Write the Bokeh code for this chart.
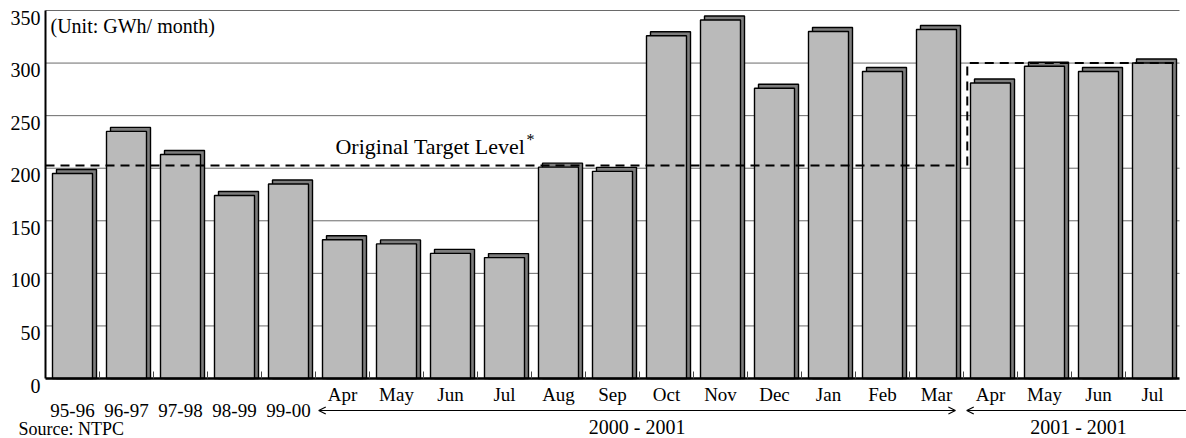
from bokeh.plotting import figure
from bokeh.models import Range1d, ColumnDataSource, Arrow, OpenHead
from bokeh.core.properties import value
from bokeh.embed import file_html
from bokeh.resources import INLINE

# ---------------- data ----------------
categories = ["95-96", "96-97", "97-98", "98-99", "99-00",
              "Apr", "May", "Jun", "Jul", "Aug", "Sep", "Oct", "Nov", "Dec",
              "Jan", "Feb", "Mar", "Apr", "May", "Jun", "Jul"]
generation = [195, 235, 213, 174, 185,
              132, 128, 119, 115, 201, 197, 326, 341, 276,
              330, 292, 332, 281, 297, 292, 300]
annual_count = 5                      # first five are fiscal years
original_target = 202.5
revised_target = 300
y_ticks = [0, 50, 100, 150, 200, 250, 300, 350]
periods = ["2000 - 2001", "2001 - 2001"]
period_first = [5, 17]
period_last = [16, 20]
unit_text = "(Unit: GWh/ month)"
target_text = "Original Target Level"
source_text = "Source: NTPC"

# ---------------- geometry ----------------
W, H = 1186, 438
LEFT, TOP = 45, 10                  # plot-area offset inside the canvas
n = len(categories)
px_x = 54.0                         # px per category
px_y = 1.05143                      # px per GWh
y_top = 350
ux = lambda px: px / px_x           # px -> x units
uy = lambda px: px / px_y           # px -> y units
x0 = -0.5
x_start = x0 - ux(LEFT)
x_end = x_start + ux(W)
y_end = y_top + uy(TOP)
y_start = y_end - uy(H)

FONT = "Liberation Serif"

p = figure(width=W, height=H, output_backend="svg", toolbar_location=None,
           x_range=Range1d(x_start, x_end), y_range=Range1d(y_start, y_end),
           x_axis_type=None, y_axis_type=None,
           min_border=0)
p.outline_line_color = None
p.background_fill_color = "white"
p.border_fill_color = "white"
p.grid.visible = False

x_last = n - 0.5
# grid lines
gt = [t for t in y_ticks if t > 0]
p.segment(x0=[x0] * len(gt), y0=gt, x1=[x_last] * len(gt), y1=gt,
          line_color="#6a6a6a", line_width=1)

# y tick labels
p.text(x=[x0 - ux(5)] * len(y_ticks), y=[t - uy(7) for t in y_ticks],
       text=[str(t) for t in y_ticks], text_font=value(FONT), text_font_size="20px",
       text_align="right", text_baseline="middle", text_color="black")

xs = list(range(n))
src = ColumnDataSource(dict(
    x=xs,
    xs=[x + ux(4) for x in xs],
    top=generation,
    stop=[g + uy(4) for g in generation],
))

bw = ux(40)
p.vbar(x="xs", top="stop", bottom=0, width=bw, source=src,
       fill_color="#7d7d7d", line_color="black", line_width=1.4)
p.vbar(x="x", top="top", bottom=0, width=bw, source=src,
       fill_color="#bababa", line_color="black", line_width=1.4)

# axis lines
p.segment(x0=[x0], y0=[0], x1=[x_last], y1=[0], line_color="black", line_width=2.5)
p.segment(x0=[x0], y0=[0], x1=[x0], y1=[y_top], line_color="black", line_width=2)
# small boundary ticks
bx = [i + 0.5 for i in range(n - 1)]
p.segment(x0=bx, y0=[0] * len(bx), x1=bx, y1=[uy(7)] * len(bx),
          line_color="#444444", line_width=1)

# target lines
step_x = period_first[1] - 0.43
p.line(x=[x0, period_last[0] + 0.41], y=[original_target] * 2,
       line_color="black", line_width=2, line_dash="9 6")
p.line(x=[step_x, step_x, n - 0.54], y=[original_target, revised_target, revised_target],
       line_color="black", line_width=2, line_dash="9 6")

# texts
p.text(x=[x0 + ux(5)], y=[y_top - uy(15)], text=[unit_text],
       text_font=value(FONT), text_font_size="20px", text_baseline="middle",
       text_align="left", text_color="black")
p.text(x=[4.87], y=[original_target + uy(19)], text=[target_text],
       text_font=value(FONT), text_font_size="22px", text_baseline="middle",
       text_align="left", text_color="black")
p.text(x=[4.87 + ux(191)], y=[original_target + uy(26)], text=["*"],
       text_font=value(FONT), text_font_size="16px", text_baseline="middle",
       text_align="left", text_color="black")

lab_src = ColumnDataSource(dict(
    x=xs,
    y=[-uy(32) if i < annual_count else -uy(16) for i in xs],
    text=categories,
))
p.text(x="x", y="y", text="text", source=lab_src,
       text_font=value(FONT), text_font_size="19px", text_baseline="middle",
       text_align="center", text_color="black")

arrow_y = -uy(32)
starts = [f - 0.44 for f in period_first]
ends = [period_last[0] + 0.35, n - 0.3]
for k, label in enumerate(periods):
    p.add_layout(Arrow(start=OpenHead(size=7, line_width=1.2),
                       end=OpenHead(size=7, line_width=1.2) if k == 0 else None,
                       x_start=starts[k], y_start=arrow_y, x_end=ends[k], y_end=arrow_y,
                       line_width=1.2, line_color="black"))
p.text(x=[(s + e) / 2 for s, e in zip(starts, ends)], y=[-uy(48)] * len(periods),
       text=periods, text_font=value(FONT), text_font_size="20px",
       text_baseline="middle", text_align="center", text_color="black")

p.text(x=[x0 - ux(27)], y=[-uy(50)], text=[source_text],
       text_font=value(FONT), text_font_size="18px", text_baseline="middle",
       text_align="left", text_color="black")

open("out.html", "w").write(file_html(p, INLINE))
